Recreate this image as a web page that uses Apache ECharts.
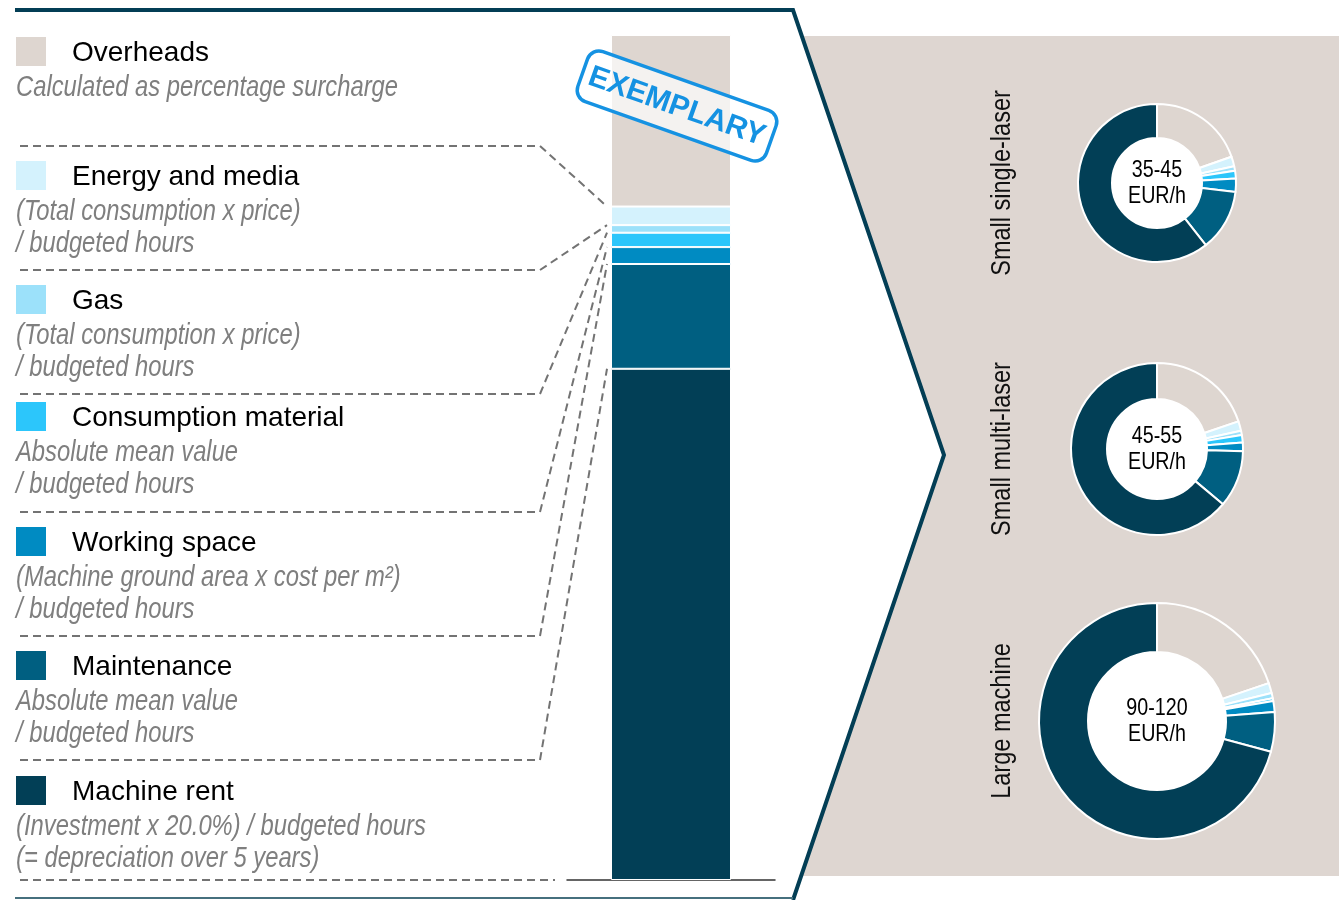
<!DOCTYPE html>
<html><head><meta charset="utf-8">
<script src="https://cdn.jsdelivr.net/npm/echarts@6/dist/echarts.min.js"></script>
<style>html,body{margin:0;padding:0;background:#fff}#c{width:1339px;height:900px}</style>
</head><body><div id="c"></div>
<script>
// ---------- data ----------
const categories = ['Overheads','Energy and media','Gas','Consumption material','Working space','Maintenance','Machine rent'];
const descriptions = [
  ['Calculated as percentage surcharge'],
  ['(Total consumption x price)','/ budgeted hours'],
  ['(Total consumption x price)','/ budgeted hours'],
  ['Absolute mean value','/ budgeted hours'],
  ['(Machine ground area x cost per m²)','/ budgeted hours'],
  ['Absolute mean value','/ budgeted hours'],
  ['(Investment x 20.0%) / budgeted hours','(= depreciation over 5 years)']
];
const colors = ['#ded6d0','#d4f2fd','#9ce1fa','#2cc6fb','#008bc2','#005f81','#023f56'];
// exemplary cost structure of the bar (% of machine hour rate), top to bottom
const barShares = [20.3, 2.2, 0.9, 1.7, 2.0, 12.4, 60.5];
const machineNames = ['Small single-laser','Small multi-laser','Large machine'];
const machineRates = [['35-45','EUR/h'],['45-55','EUR/h'],['90-120','EUR/h']];
const pieSingle = [19.6, 2.0, 0.9, 1.6, 2.7, 12.6, 60.6];
const pieMulti  = [19.8, 1.8, 0.8, 1.4, 1.6, 10.7, 63.9];
const pieLarge  = [19.8, 1.4, 0.7, 0.4, 1.5, 5.4, 70.8];
const stampText = 'EXEMPLARY';

// ---------- layout ----------
const REG = "'Liberation Sans', Arial, sans-serif";
const NARROW_SCALE = 0.82; // emulate a condensed face
const DARK = '#033e55';
const titleY = [52, 176, 300, 417, 542, 666, 791];
const dashY = [146, 270, 394, 512, 636, 760];
const pieLayout = [
  {data: pieSingle, center: [1157, 183], radius: [45, 79]},
  {data: pieMulti,  center: [1157, 449], radius: [50, 86]},
  {data: pieLarge,  center: [1157, 721], radius: [69, 118]}
];

const chart = echarts.init(document.getElementById('c'), null, {renderer: 'canvas'});

const series = [];
for (let i = categories.length - 1; i >= 0; i--) {
  series.push({
    type: 'bar', name: categories[i], stack: 'cost', barWidth: 120,
    data: [barShares[i]],
    itemStyle: {color: colors[i], borderColor: '#fff', borderWidth: 1},
    silent: true
  });
}
pieLayout.forEach((p, k) => {
  series.push({
    type: 'pie', center: p.center, radius: p.radius, startAngle: 90, clockwise: true,
    silent: true, label: {show: false}, labelLine: {show: false},
    itemStyle: {borderColor: '#fff', borderWidth: 2},
    data: p.data.map((v, i) => ({name: categories[i], value: v, itemStyle: {color: colors[i]}}))
  });
  series.push({
    type: 'pie', center: p.center, radius: [0, p.radius[0]], silent: true,
    itemStyle: {color: '#fff'}, labelLine: {show: false}, label: {show: false},
    data: [{value: 1, name: machineNames[k]}]
  });
});

chart.setOption({
  animation: false,
  backgroundColor: '#fff',
  grid: {left: 567, right: 564, top: 35, bottom: 20},
  xAxis: {type: 'category', data: ['cost'],
    axisLine: {show: true, lineStyle: {color: '#333', width: 1.5}},
    axisTick: {show: false}, axisLabel: {show: false}, splitLine: {show: false}},
  yAxis: {type: 'value', min: 0, max: 100, show: false, splitLine: {show: false}},
  series: series
});

// ---------- graphic overlay ----------
const g = [];
// beige panel + chevron frame
g.push({type: 'polygon', z: -10, shape: {points: [[801,36],[1339,36],[1339,876],[801,876],[944,455]]},
  style: {fill: '#ded6d1'}});
g.push({type: 'polyline', z: 50, shape: {points: [[15,10],[793,10],[944,455],[793,900]]},
  style: {stroke: DARK, lineWidth: 4, fill: null, lineJoin: 'miter'}});
g.push({type: 'line', z: 50, shape: {x1: 15, y1: 898, x2: 793, y2: 898},
  style: {stroke: '#46707e', lineWidth: 2}});

// legend entries
categories.forEach((c, i) => {
  const ty = titleY[i];
  g.push({type: 'rect', shape: {x: 16, y: ty - 15, width: 30, height: 29}, style: {fill: colors[i]}});
  g.push({type: 'text', x: 72, y: ty + 1, style: {text: c, fontFamily: REG, fontSize: 28, fill: '#000',
    verticalAlign: 'middle', align: 'left'}});
  descriptions[i].forEach((d, j) => {
    g.push({type: 'text', x: 16, y: ty + 36 + j * 31.5, scaleX: NARROW_SCALE,
      style: {text: d, fontFamily: REG, fontSize: 29,
      fontStyle: 'italic', fill: '#7f7f7f', verticalAlign: 'middle', align: 'left'}});
  });
});

// dashed connectors to the bar boundaries
const barCenter = chart.convertToPixel({xAxisIndex: 0}, 'cost');
const barLeft = barCenter - 60 - 4;
let cum = 0;
const cumFromBottom = [];
for (let i = categories.length - 1; i >= 0; i--) { cum += barShares[i]; cumFromBottom[i] = cum; }
dashY.forEach((ly, k) => {
  const by = chart.convertToPixel({yAxisIndex: 0}, cumFromBottom[k + 1]);
  g.push({type: 'polyline', shape: {points: [[20, ly], [540, ly], [barLeft, by]]},
    style: {stroke: '#737373', lineWidth: 2, lineDash: [8, 5], fill: null}});
});
const y0 = chart.convertToPixel({yAxisIndex: 0}, 0);
g.push({type: 'line', shape: {x1: 20, y1: y0, x2: 555, y2: y0},
  style: {stroke: '#737373', lineWidth: 2, lineDash: [8, 5]}});

// vertical machine labels and centre labels
pieLayout.forEach((p, k) => {
  g.push({type: 'text', x: 1002, y: p.center[1], rotation: Math.PI / 2, scaleX: 0.84,
    style: {text: machineNames[k], fontFamily: REG, fontSize: 28, fill: '#111',
      align: 'center', verticalAlign: 'middle'}});
  machineRates[k].forEach((t, j) => {
    g.push({type: 'text', z: 10, x: p.center[0], y: p.center[1] - 12.5 + j * 25.5, scaleX: NARROW_SCALE,
      style: {text: t, fontFamily: REG, fontSize: 24, fill: '#000', align: 'center', verticalAlign: 'middle'}});
  });
});

// stamp
g.push({type: 'group', x: 677, y: 106, rotation: -19.5 * Math.PI / 180, z: 100, children: [
  {type: 'rect', z: 100, shape: {x: -100, y: -26.5, width: 200, height: 53, r: 12},
    style: {fill: 'rgba(255,255,255,0.68)', stroke: '#1592e2', lineWidth: 3.5}},
  {type: 'text', z: 101, x: 0, y: 1, style: {text: stampText, fontFamily: REG, fontWeight: 'bold', fontSize: 30,
    fill: '#1592e2', align: 'center', verticalAlign: 'middle'}}
]});

chart.setOption({graphic: {elements: g}});
</script>
</body></html>
